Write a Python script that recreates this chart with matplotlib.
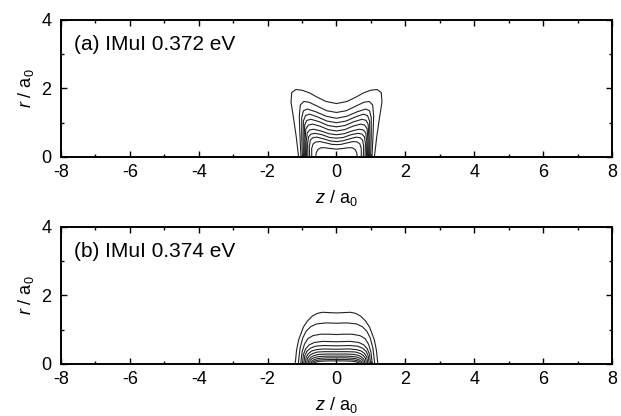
import numpy as np
import matplotlib
matplotlib.use("Agg")
import matplotlib.pyplot as plt
from matplotlib.ticker import MultipleLocator

plt.rcParams["font.family"] = ["Liberation Sans", "DejaVu Sans"]
plt.rcParams["mathtext.fontset"] = "custom"
plt.rcParams["mathtext.rm"] = "Liberation Sans"
plt.rcParams["mathtext.it"] = "Liberation Sans:italic"
plt.rcParams["axes.unicode_minus"] = False

# |u| contours, left half of each line (z, r) from the outermost inwards;
# the function is symmetric in z so the right half is the mirror image
contornos_a = [
    [(-1.10, 0.0), (-1.17, 0.60), (-1.25, 1.15), (-1.32, 1.60), (-1.30, 1.88), (-1.18, 1.97),
     (-1.00, 1.95), (-0.78, 1.87), (-0.55, 1.74), (-0.30, 1.62), (0.0, 1.56)],
    [(-1.03, 0.0), (-1.06, 0.60), (-1.08, 1.20), (-1.05, 1.52), (-0.95, 1.62), (-0.80, 1.60),
     (-0.55, 1.48), (-0.28, 1.35), (0.0, 1.30)],
    [(-0.99, 0.0), (-1.01, 0.60), (-1.01, 1.15), (-0.96, 1.35), (-0.85, 1.40), (-0.60, 1.32),
     (-0.30, 1.19), (0.0, 1.13)],
    [(-0.96, 0.0), (-0.97, 0.60), (-0.96, 1.05), (-0.90, 1.21), (-0.78, 1.25), (-0.55, 1.17),
     (-0.28, 1.05), (0.0, 1.00)],
    [(-0.93, 0.0), (-0.94, 0.55), (-0.92, 0.95), (-0.86, 1.07), (-0.74, 1.10), (-0.50, 1.03),
     (-0.25, 0.92), (0.0, 0.88)],
    [(-0.90, 0.0), (-0.91, 0.50), (-0.89, 0.82), (-0.82, 0.93), (-0.70, 0.96), (-0.48, 0.90),
     (-0.24, 0.80), (0.0, 0.76)],
    [(-0.87, 0.0), (-0.88, 0.45), (-0.85, 0.70), (-0.78, 0.79), (-0.66, 0.81), (-0.45, 0.76),
     (-0.22, 0.68), (0.0, 0.65)],
    [(-0.83, 0.0), (-0.84, 0.40), (-0.81, 0.59), (-0.74, 0.67), (-0.62, 0.69), (-0.42, 0.65),
     (-0.20, 0.57), (0.0, 0.55)],
    [(-0.78, 0.0), (-0.79, 0.30), (-0.76, 0.49), (-0.69, 0.56), (-0.57, 0.58), (-0.38, 0.53),
     (-0.18, 0.47), (0.0, 0.45)],
    [(-0.72, 0.0), (-0.72, 0.25), (-0.68, 0.38), (-0.60, 0.44), (-0.48, 0.45), (-0.30, 0.41),
     (-0.14, 0.37), (0.0, 0.36)],
    [(-0.60, 0.0), (-0.59, 0.12), (-0.54, 0.22), (-0.45, 0.27), (-0.33, 0.27), (-0.20, 0.25),
     (0.0, 0.23)],
]

contornos_b = [
    [(-1.20, 0.0), (-1.16, 0.40), (-1.10, 0.70), (-0.96, 1.08), (-0.84, 1.26), (-0.70, 1.40),
     (-0.55, 1.48), (-0.40, 1.51), (-0.20, 1.50), (0.0, 1.49)],
    [(-1.11, 0.0), (-1.06, 0.45), (-0.98, 0.76), (-0.88, 0.96), (-0.75, 1.09), (-0.58, 1.17),
     (-0.30, 1.20), (0.0, 1.19)],
    [(-1.04, 0.0), (-1.00, 0.35), (-0.93, 0.58), (-0.83, 0.74), (-0.68, 0.83), (-0.45, 0.87),
     (-0.20, 0.87), (0.0, 0.86)],
    [(-0.99, 0.0), (-0.96, 0.28), (-0.89, 0.45), (-0.79, 0.56), (-0.64, 0.63), (-0.40, 0.66),
     (0.0, 0.65)],
    [(-0.95, 0.0), (-0.92, 0.24), (-0.86, 0.37), (-0.76, 0.46), (-0.61, 0.52), (-0.38, 0.54),
     (0.0, 0.53)],
    [(-0.91, 0.0), (-0.88, 0.20), (-0.82, 0.30), (-0.72, 0.38), (-0.58, 0.42), (-0.36, 0.44),
     (0.0, 0.43)],
    [(-0.87, 0.0), (-0.84, 0.17), (-0.78, 0.25), (-0.68, 0.31), (-0.55, 0.35), (-0.34, 0.36),
     (0.0, 0.36)],
    [(-0.83, 0.0), (-0.80, 0.13), (-0.74, 0.20), (-0.64, 0.25), (-0.51, 0.28), (-0.30, 0.29),
     (0.0, 0.29)],
    [(-0.79, 0.0), (-0.76, 0.11), (-0.70, 0.16), (-0.60, 0.20), (-0.47, 0.22), (-0.28, 0.23),
     (0.0, 0.23)],
    [(-0.75, 0.0), (-0.72, 0.08), (-0.66, 0.12), (-0.56, 0.155), (-0.43, 0.17), (-0.25, 0.18),
     (0.0, 0.18)],
    [(-0.71, 0.0), (-0.68, 0.06), (-0.62, 0.09), (-0.52, 0.115), (-0.40, 0.125), (-0.22, 0.13),
     (0.0, 0.13)],
    [(-0.67, 0.0), (-0.64, 0.04), (-0.58, 0.06), (-0.48, 0.078), (-0.36, 0.085), (-0.20, 0.09),
     (0.0, 0.09)],
]

paneles = [
    ("(a) IMuI 0.372 eV", contornos_a),
    ("(b) IMuI 0.374 eV", contornos_b),
]

z_ticks = [-8, -6, -4, -2, 0, 2, 4, 6, 8]
r_ticks = [0, 2, 4]

fig = plt.figure(figsize=(6.21, 4.16), dpi=100)
posiciones = [[0.0982, 0.6226, 0.8873, 0.3294], [0.0982, 0.125, 0.8873, 0.3294]]

for (titulo, contornos), pos in zip(paneles, posiciones):
    ax = fig.add_axes(pos)
    for linea in contornos:
        mitad = np.array(linea)
        z = np.concatenate([mitad[:, 0], -mitad[::-1, 0]])
        r = np.concatenate([mitad[:, 1], mitad[::-1, 1]])
        ax.plot(z, r, color="#222222", lw=0.8, solid_joinstyle="round")

    ax.set_xlim(-8, 8)
    ax.set_ylim(0, 4)
    ax.set_xticks(z_ticks)
    ax.set_yticks(r_ticks)
    ax.xaxis.set_minor_locator(MultipleLocator(1))
    ax.yaxis.set_minor_locator(MultipleLocator(1))
    ax.tick_params(which="both", direction="in", top=True, right=True,
                   labelsize=13, width=1.0, color="black")
    ax.tick_params(axis="x", which="both", pad=5)
    ax.tick_params(axis="y", which="both", pad=7)
    ax.tick_params(which="major", length=4.5)
    ax.tick_params(which="minor", length=2.5)
    for s in ax.spines.values():
        s.set_linewidth(1.4)

    ax.set_xlabel("$z$ / a$_0$", fontsize=13, labelpad=5)
    ax.set_ylabel("$r$ / a$_0$", fontsize=13, labelpad=4)
    ax.text(-7.62, 3.28, titulo, fontsize=15, va="center", ha="left")

plt.savefig("out.png", dpi=100)
